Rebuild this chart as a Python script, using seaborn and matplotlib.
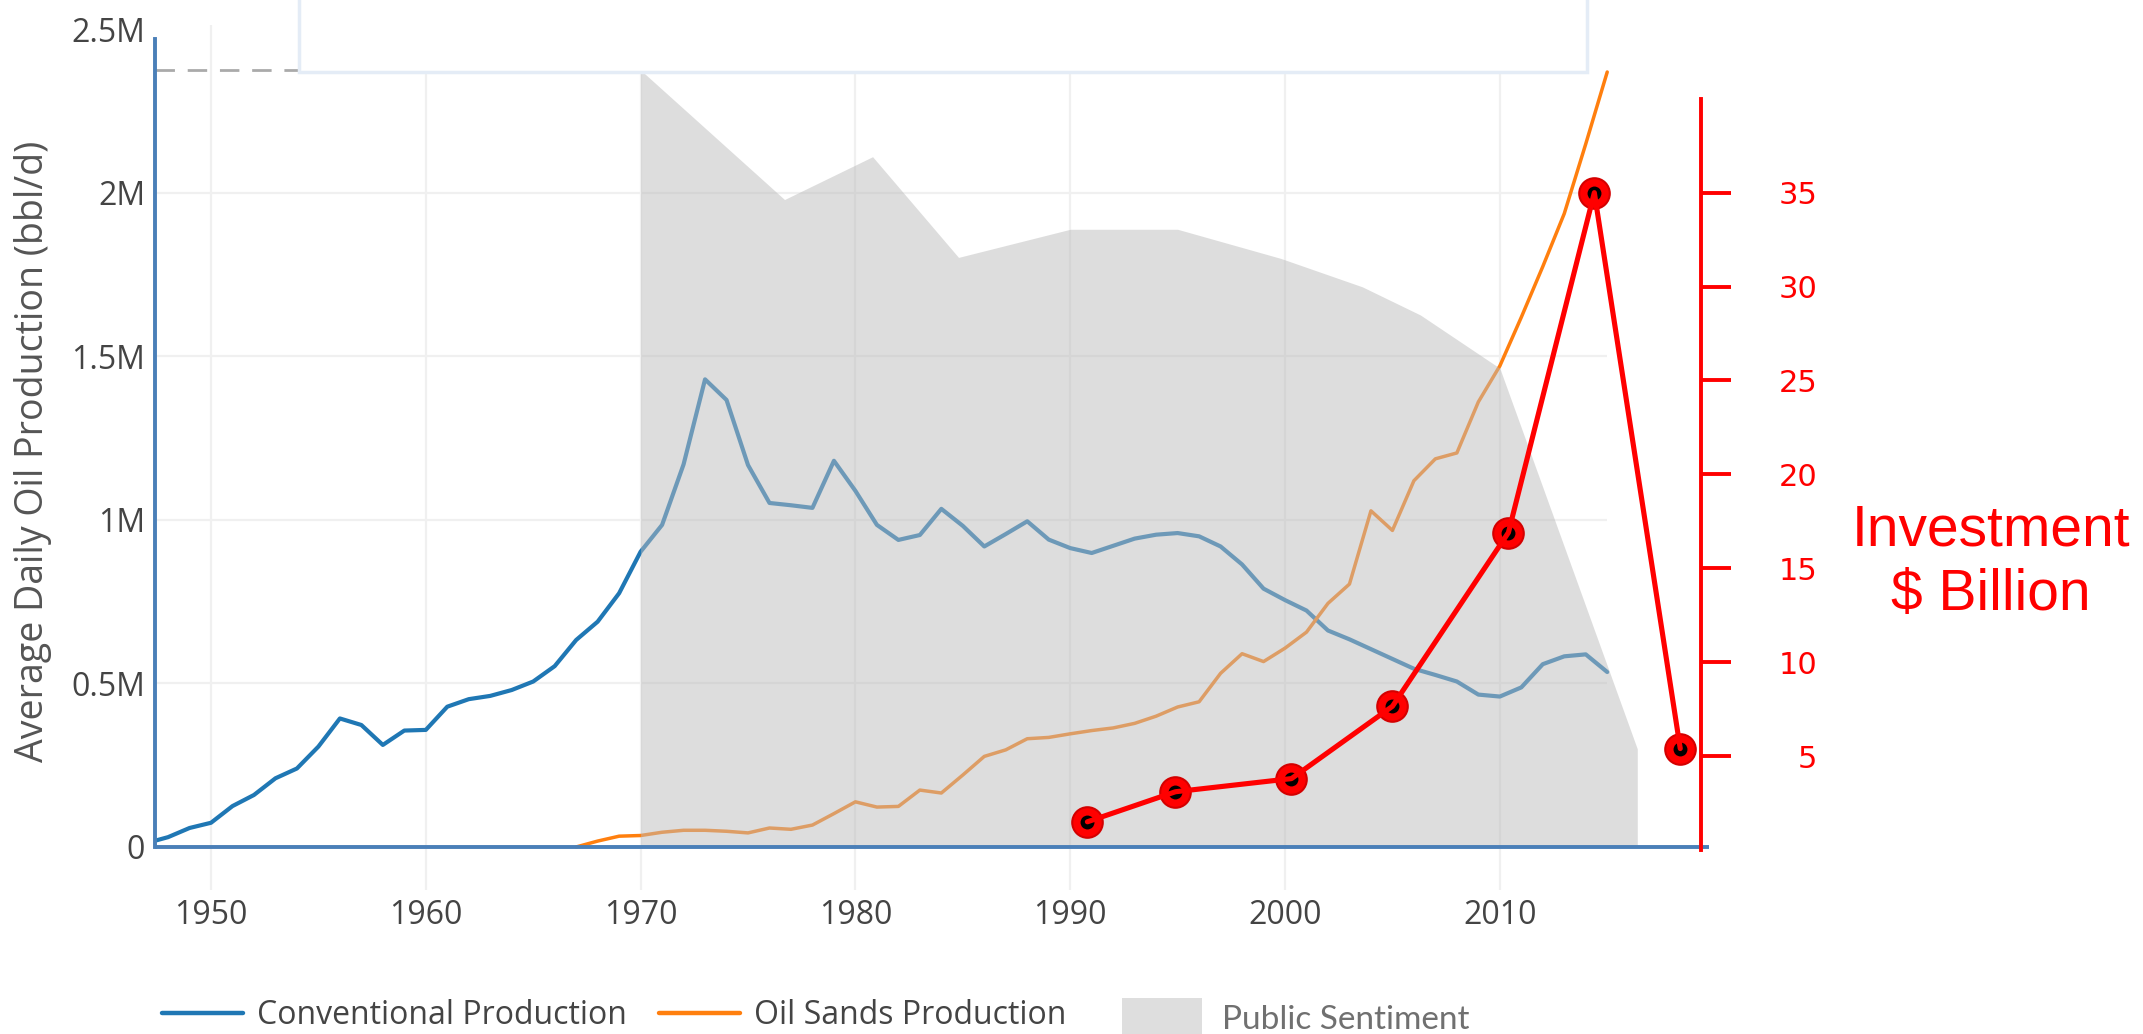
import numpy as np
import pandas as pd
import matplotlib
matplotlib.use('Agg')
import matplotlib.pyplot as plt
import matplotlib.patches as mpatches
from matplotlib.lines import Line2D
import seaborn as sns

# conventional production, million bbl/d
conv_years = list(range(1947, 2016))
conv_prod = [0.012, 0.03, 0.058, 0.074, 0.125, 0.159, 0.21, 0.24, 0.307, 0.393,
             0.373, 0.312, 0.356, 0.358, 0.429, 0.452, 0.462, 0.48, 0.506, 0.553,
             0.633, 0.689, 0.776, 0.903, 0.985, 1.17, 1.43, 1.367, 1.168, 1.052,
             1.045, 1.037, 1.181, 1.089, 0.985, 0.939, 0.954, 1.034, 0.982, 0.919,
             0.957, 0.996, 0.94, 0.914, 0.899, 0.921, 0.943, 0.955, 0.96, 0.95,
             0.919, 0.864, 0.79, 0.755, 0.723, 0.662, 0.635, 0.605, 0.575, 0.545,
             0.526, 0.506, 0.466, 0.46, 0.488, 0.559, 0.583, 0.589, 0.535]

# oil sands production, million bbl/d
sands_years = list(range(1967, 2016))
sands_prod = [0.0, 0.018, 0.033, 0.035, 0.045, 0.051, 0.051, 0.048, 0.043, 0.058,
              0.054, 0.067, 0.102, 0.138, 0.122, 0.124, 0.174, 0.165, 0.22, 0.277,
              0.297, 0.331, 0.335, 0.346, 0.356, 0.364, 0.378, 0.400, 0.428, 0.444,
              0.531, 0.591, 0.567, 0.608, 0.657, 0.745, 0.804, 1.028, 0.968, 1.12,
              1.187, 1.205, 1.361, 1.471, 1.62, 1.775, 1.937, 2.15, 2.37]

# public sentiment (drawn on the production scale)
sent_years = [1970, 1976.7, 1980.8, 1984.8, 1990, 1995, 1999.8, 2003.6, 2006.3, 2010, 2016.4]
sent_vals = [2.376, 1.98, 2.111, 1.803, 1.889, 1.889, 1.80, 1.713, 1.627, 1.464, 0.30]

# investment, $ billion
inv_years = [1990.8, 1994.9, 2000.3, 2005.0, 2010.4, 2014.4, 2018.4]
inv_vals = [1.5, 3.1, 3.8, 7.65, 16.9, 35.0, 5.4]

ytick_vals = [0, 0.5, 1, 1.5, 2, 2.5]
ytick_labels = ['0', '0.5M', '1M', '1.5M', '2M', '2.5M']
xtick_vals = [1950, 1960, 1970, 1980, 1990, 2000, 2010]
inv_ticks = [5, 10, 15, 20, 25, 30, 35]

M = 1e6
conv = pd.DataFrame({'year': conv_years, 'bbl': np.array(conv_prod) * M})
sands = pd.DataFrame({'year': sands_years, 'bbl': np.array(sands_prod) * M})
inv = pd.DataFrame({'year': inv_years, 'bn': inv_vals})

sns.set_theme(style='white')
plt.rcParams['font.family'] = ['Open Sans', 'DejaVu Sans']

BLUE = '#1f77b4'
ORANGE = '#ff7f0e'
AXBLUE = '#4a7fb8'
TXT = '#444444'
GRID = '#f0f0f0'

fig = plt.figure(figsize=(21.43, 10.34), dpi=100)
ax = fig.add_axes([0.0723, 0.1393, 0.7252, 0.8366])

ax.set_xlim(1947.39, 2019.74)
ax.set_ylim(-0.1315 * M, 2.514 * M)

# grid
ax.grid(axis='x', color=GRID, lw=1.6)
ax.grid(axis='y', visible=False)
ax.set_axisbelow(True)
ax.hlines([v * M for v in ytick_vals[1:-1]], 1947.39, 2015.0, color=GRID, lw=1.6, zorder=0.5)

sns.lineplot(data=conv, x='year', y='bbl', ax=ax, color=BLUE, lw=3.0, zorder=1.5)
sns.lineplot(data=sands, x='year', y='bbl', ax=ax, color=ORANGE, lw=2.5, zorder=1.5)
ax.fill_between(sent_years, 0, np.array(sent_vals) * M, color='#bcbcbc', alpha=0.5, lw=0, zorder=2)

# hover spike line
ax.plot([1947.39, sent_years[0]], [sent_vals[0] * M] * 2, color='#aaaaaa', lw=2,
        ls=(0, (7, 4.6)), zorder=2.5)
ax.axhline(0, color=AXBLUE, lw=2.8, zorder=3)

for s in ['top', 'right', 'bottom']:
    ax.spines[s].set_visible(False)
ax.spines['left'].set_color(AXBLUE)
ax.spines['left'].set_linewidth(2.8)
ax.spines['left'].set_bounds(0, 2.47 * M)

ax.set_yticks([v * M for v in ytick_vals])
ax.set_yticklabels(ytick_labels)
ax.set_xticks(xtick_vals)
ax.tick_params(axis='both', length=0, labelsize=23, colors=TXT)
ax.tick_params(axis='y', pad=7)
ax.tick_params(axis='x', pad=6.5)
ax.set_xlabel('')
ax.set_ylabel('')

# investment axis
ax2 = ax.twinx()
ax2.set_ylim(-2.13, 43.93)
sns.lineplot(data=inv, x='year', y='bn', ax=ax2, color='red', lw=3.7, zorder=7)
ax2.plot(inv['year'], inv['bn'], 'o', color='red', ms=22, mec='#d40000', mew=1.5, zorder=5)
ax2.plot(inv['year'], inv['bn'], 'o', color='black', ms=10, mew=0, zorder=6)
for s in ['top', 'left', 'bottom']:
    ax2.spines[s].set_visible(False)
ax2.spines['right'].set_position(('axes', 0.99485))
ax2.spines['right'].set_bounds(0, 40)
ax2.spines['right'].set_color('red')
ax2.spines['right'].set_linewidth(2.8)
ax2.set_yticks(inv_ticks)
ax2.tick_params(axis='y', direction='out', length=21.6, width=2.8, color='red',
                labelcolor='red', labelsize=22, pad=62)
for t in ax2.get_yticklabels():
    t.set_horizontalalignment('right')
    t.set_family('DejaVu Sans')
ax2.grid(False)
ax2.set_ylabel('')
ax2.set_xlabel('')

fig.text(1991 / 2143, 1 - 563 / 1034, 'Investment\n$ Billion', color='red', fontsize=41,
         family='Liberation Sans', ha='center', va='center', linespacing=1.25)

fig.text(33 / 2143, 1 - 451 / 1034, 'Average Daily Oil Production (bbl/d)', rotation=90,
         ha='center', va='center', fontsize=27, color='#555555')

# hover box at the top
box = mpatches.Rectangle((299 / 2143, 1 - 72 / 1034), (1587 - 299) / 2143, 80 / 1034,
                         transform=fig.transFigure, facecolor='white', edgecolor='#e4ecf6',
                         lw=2.5, zorder=3)
fig.add_artist(box)

# legends
h_lines = [Line2D([], [], color=BLUE, lw=3.2), Line2D([], [], color=ORANGE, lw=3.2)]
leg1 = fig.legend(h_lines, ['Conventional Production', 'Oil Sands Production'],
                  loc='center left', bbox_to_anchor=(162 / 2143, 1 - 1016 / 1034),
                  ncol=2, frameon=False, fontsize=23, handlelength=2.54, handletextpad=0.44,
                  columnspacing=1.0, borderpad=0, borderaxespad=0, labelcolor=TXT)
h_patch = [mpatches.Patch(facecolor='#dedede', edgecolor='none')]
leg2 = fig.legend(h_patch, ['Public Sentiment'], loc='center left',
                  bbox_to_anchor=(1122 / 2143, 1 - 1018 / 1034), frameon=False,
                  fontsize=24, handlelength=2.4, handleheight=1.5, handletextpad=0.6,
                  borderpad=0, borderaxespad=0, labelcolor='#707070',
                  prop={'family': 'Lato', 'size': 24})

fig.savefig('out.png', dpi=100)
